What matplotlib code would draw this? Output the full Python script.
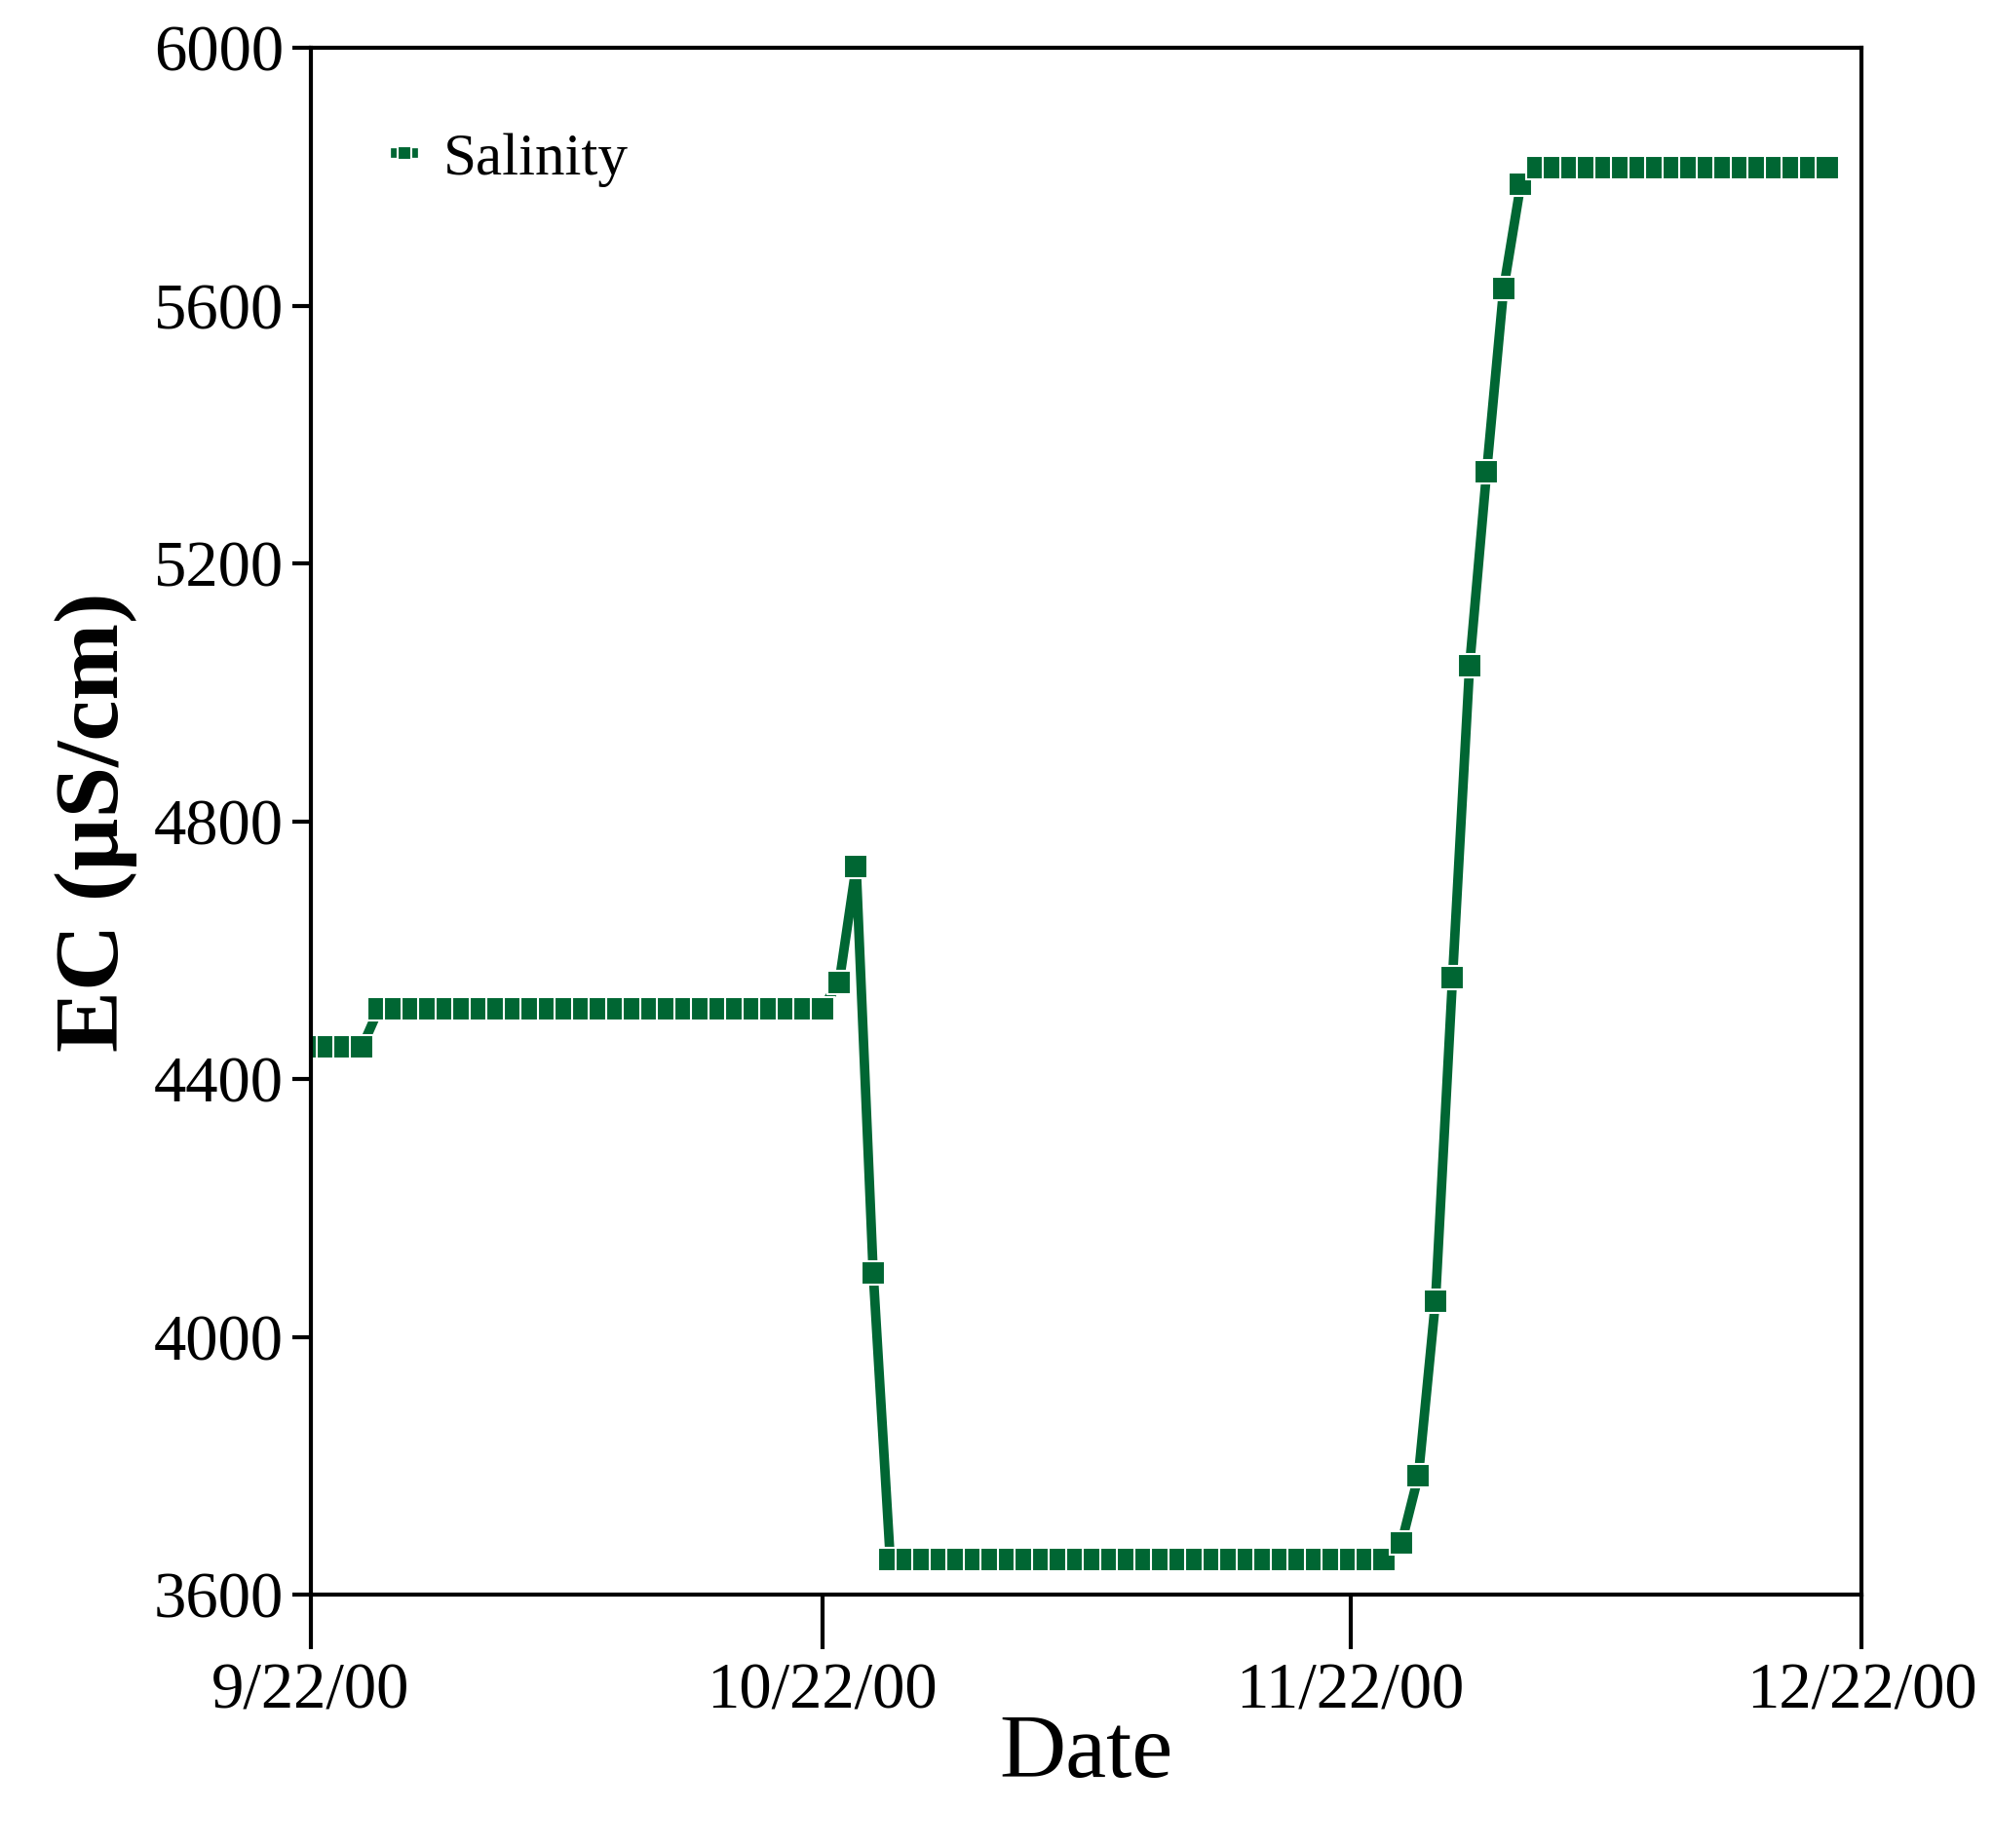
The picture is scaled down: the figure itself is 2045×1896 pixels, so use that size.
import matplotlib
matplotlib.use("Agg")
import matplotlib.pyplot as plt
import numpy as np
import pandas as pd

plt.rcParams['font.family'] = ['Liberation Serif', 'DejaVu Serif']

# daily EC readings from 9/22/00
ec = ([4450] * 4 + [4510] * 27 + [4550, 4730, 4100] + [3655] * 30 +
      [3680, 3785, 4056, 4557, 5041, 5342, 5627, 5788] + [5815] * 18)
dates = pd.date_range("2000-09-22", periods=len(ec), freq="D")
tick_dates = pd.to_datetime(["2000-09-22", "2000-10-22", "2000-11-22", "2000-12-22"])
tick_labels = ["9/22/00", "10/22/00", "11/22/00", "12/22/00"]

fig = plt.figure(figsize=(20.45, 18.96), dpi=100)
ax = fig.add_axes([0.156, 0.137, 0.778, 0.837])

green = "#006633"
ax.plot(dates, ec, color=green, lw=7, marker="s", ms=17,
        mec="white", mew=1.5, label="Salinity")

ax.set_xlim(tick_dates[0], tick_dates[-1])
ax.set_ylim(3600, 6000)
ax.set_yticks(np.arange(3600, 6001, 400))
ax.set_xticks(tick_dates)
ax.set_xticklabels(tick_labels)

ax.tick_params(axis="both", labelsize=48, width=3, direction="out")
ax.tick_params(axis="y", length=14, pad=6)
ax.tick_params(axis="x", length=40, pad=10)
for s in ax.spines.values():
    s.set_linewidth(3)

ax.set_xlabel("Date", fontsize=68, labelpad=-6)
ax.set_ylabel("EC (µS/cm)", fontsize=68, fontweight="bold", labelpad=12)

ax.legend(loc="upper left", fontsize=44, frameon=False, handlelength=0.3,
          handletextpad=0.5, markerscale=0.6, bbox_to_anchor=(0.02, 0.98))

fig.savefig("out.png", dpi=100)
